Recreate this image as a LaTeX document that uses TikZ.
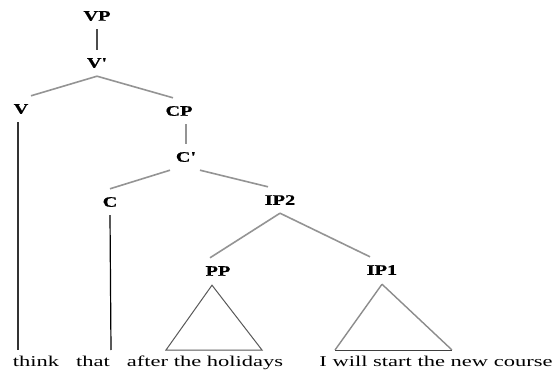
\documentclass[tikz,border=0pt]{standalone}
\usepackage{fontspec}
\setmainfont{Liberation Serif}
\newfontfamily\labelfont[FakeStretch=1.4,FakeBold=0.6]{Liberation Serif Bold}
\newfontfamily\wordfont[FakeStretch=1.5]{Liberation Serif}
\begin{document}
\begin{tikzpicture}[x=1pt,y=-1pt,
  cat/.style={font=\labelfont\fontsize{14.5}{15}\selectfont, inner sep=0pt, minimum height=26pt, minimum width=20pt},
  word/.style={font=\wordfont\fontsize{15}{16}\selectfont, inner sep=0pt, anchor=base},
  branch/.style={draw=black!42, line width=1.6pt},
  stem/.style={draw=black!80, line width=1.3pt},
  roof/.style={draw=black!65, line width=1pt},
  roofb/.style={draw=black!45, line width=1.4pt}]
\useasboundingbox (0,0) rectangle (554,371);
\fill[white] (0,0) rectangle (554,371);

% category labels
\node[cat] (VP)  at (97,16)  {VP};
\node[cat] (Vb)  at (97,63)  {V'};
\node[cat] (V)   at (21,109) {V};
\node[cat] (CP)  at (179,111){CP};
\node[cat] (Cb)  at (186,157){C'};
\node[cat] (C)   at (110,202){C};
\node[cat] (IP2) at (280,200){IP2};
\node[cat] (PP)  at (218,271){PP};
\node[cat] (IP1) at (382,270){IP1};

% terminal words
\node[word] (think) at (36,366)  {think};
\node[word] (that)  at (93,366)  {that};
\node[word] (after) at (205,366) {after the holidays};
\node[word] (will)  at (436,366) {I will start the new course};

% branches
\draw[draw=black!70, line width=1.3pt] (VP.south) -- (Vb.north);
\draw[branch] (Vb.south) -- ([xshift=10pt]V.north);
\draw[branch] (Vb.south) -- ([xshift=-6pt]CP.north);
\draw[branch] (CP.south -| Cb.north) -- (Cb.north);
\draw[branch] ([xshift=-16pt]Cb.south) -- (C.north);
\draw[branch] ([xshift=14pt]Cb.south) -- ([xshift=-12pt]IP2.north);
\draw[branch] (IP2.south) -- ([xshift=-8pt]PP.north);
\draw[branch] (IP2.south) -- ([xshift=-12pt]IP1.north);

% unary lines down to the words
\coordinate (vfoot) at (18,350);
\coordinate (cfoot) at (111,350);
\draw[stem] ([xshift=-3pt]V.south) -- (vfoot);
\draw[line width=1.2pt] (C.south) -- (cfoot);

% roofs over phrases
\coordinate (ppl) at (166,350);
\coordinate (ppr) at (262,350);
\coordinate (ipl) at (335,350);
\coordinate (ipr) at (452,350);
\draw[roof] ([xshift=-6pt,yshift=-1pt]PP.south) -- (ppl) -- (ppr) -- cycle;
\draw[roofb] ([yshift=-1pt]IP1.south) -- (ipl);
\draw[roofb] ([yshift=-1pt]IP1.south) -- (ipr);
\draw[draw=black!75, line width=0.8pt] (ipl) -- (ipr);
\end{tikzpicture}
\end{document}
